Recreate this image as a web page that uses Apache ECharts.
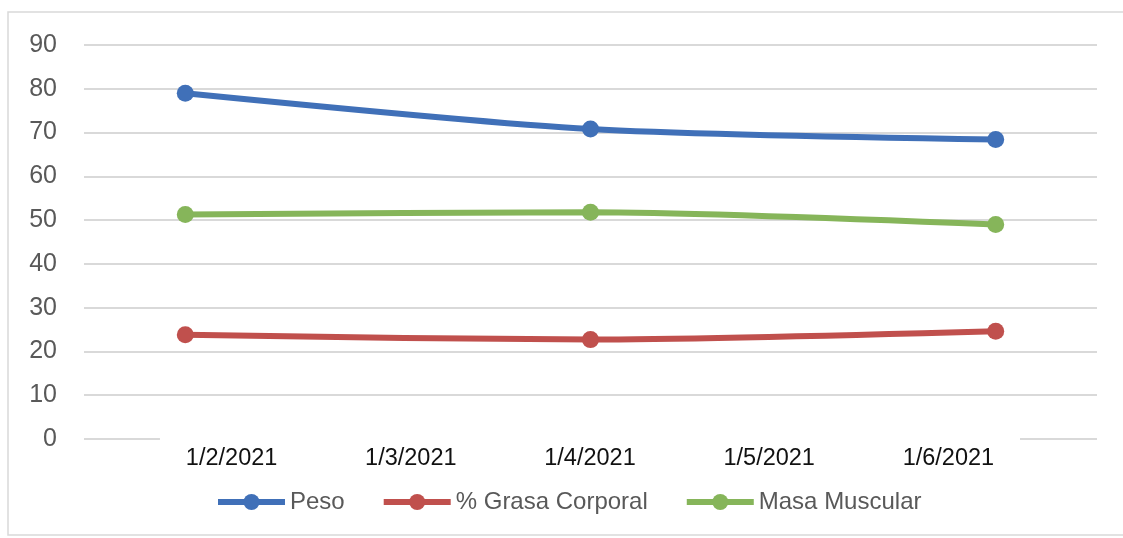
<!DOCTYPE html>
<html>
<head>
<meta charset="utf-8">
<script src="https://cdn.jsdelivr.net/npm/echarts@6/dist/echarts.min.js"></script>
<style>
  html, body { margin: 0; padding: 0; background: #fff; }
  #myChart { width: 1123px; height: 538px; }
</style>
</head>
<body>
<div id="myChart"></div>
<script>
// datos
var fechas = ["1/2/2021", "1/3/2021", "1/4/2021", "1/5/2021", "1/6/2021"];
var peso = [79, null, 70.8, null, 68.4];
var grasa = [23.8, null, 22.7, null, 24.6];
var masa = [51.3, null, 51.8, null, 49.0];
var yTicks = [0, 10, 20, 30, 40, 50, 60, 70, 80, 90];

var fuente = "'Liberation Sans', Arial, sans-serif";
var gris = "#d9d9d9";

function serie(name, data, color) {
  return {
    name: name,
    type: "line",
    data: data,
    connectNulls: true,
    smooth: 0.25,
    symbol: "circle",
    symbolSize: 17,
    itemStyle: { color: color },
    lineStyle: { color: color, width: 6 }
  };
}

var myChart = echarts.init(document.getElementById("myChart"));
myChart.setOption({
  animation: false,
  textStyle: { fontFamily: fuente },
  graphic: [
    {
      type: "rect",
      shape: { x: 8, y: 12, width: 1140, height: 523 },
      style: { fill: "none", stroke: gris, lineWidth: 1.5 },
      silent: true
    }
  ],
  grid: [
    { left: 84, right: 26, top: 45, bottom: 99, containLabel: false },
    { left: 142, width: 896, top: 45, bottom: 99, containLabel: false }
  ],
  legend: {
    data: ["Peso", "% Grasa Corporal", "Masa Muscular"],
    left: 210,
    top: 485,
    itemWidth: 67,
    itemHeight: 20,
    itemGap: 36,
    lineStyle: { width: 6 },
    textStyle: { fontSize: 24, color: "#595959", fontFamily: fuente }
  },
  xAxis: [
    {
      type: "category",
      gridIndex: 0,
      data: fechas,
      boundaryGap: true,
      axisLine: { show: false },
      axisTick: { show: false },
      axisLabel: { show: false },
      splitLine: { show: false }
    },
    {
      type: "category",
      gridIndex: 1,
      data: fechas,
      boundaryGap: true,
      axisLine: { show: false },
      axisTick: { show: false },
      splitLine: { show: false },
      axisLabel: { margin: 8, fontSize: 23.5, color: "#111", fontFamily: fuente }
    },
    { type: "value", gridIndex: 0, min: 0, max: 100, show: false }
  ],
  yAxis: [
    {
      type: "value",
      gridIndex: 0,
      min: yTicks[0],
      max: yTicks[yTicks.length - 1],
      interval: 10,
      axisLine: { show: false },
      axisTick: { show: false },
      axisLabel: { margin: 27, fontSize: 25, color: "#595959", fontFamily: fuente },
      splitLine: { show: true, showMinLine: false, lineStyle: { color: gris, width: 2 } }
    },
    { type: "value", gridIndex: 1, min: 0, max: 90, show: false }
  ],
  series: [
    serie("Peso", peso, "#4070b8"),
    serie("% Grasa Corporal", grasa, "#c0504d"),
    serie("Masa Muscular", masa, "#86b55a"),
    // trozos visibles de la linea del cero
    {
      type: "line", xAxisIndex: 2, yAxisIndex: 0, silent: true, symbol: "none",
      data: [[0, 0], [7.5, 0]], lineStyle: { color: gris, width: 2 }, z: 1
    },
    {
      type: "line", xAxisIndex: 2, yAxisIndex: 0, silent: true, symbol: "none",
      data: [[92.4, 0], [100, 0]], lineStyle: { color: gris, width: 2 }, z: 1
    }
  ]
});
</script>
</body>
</html>
